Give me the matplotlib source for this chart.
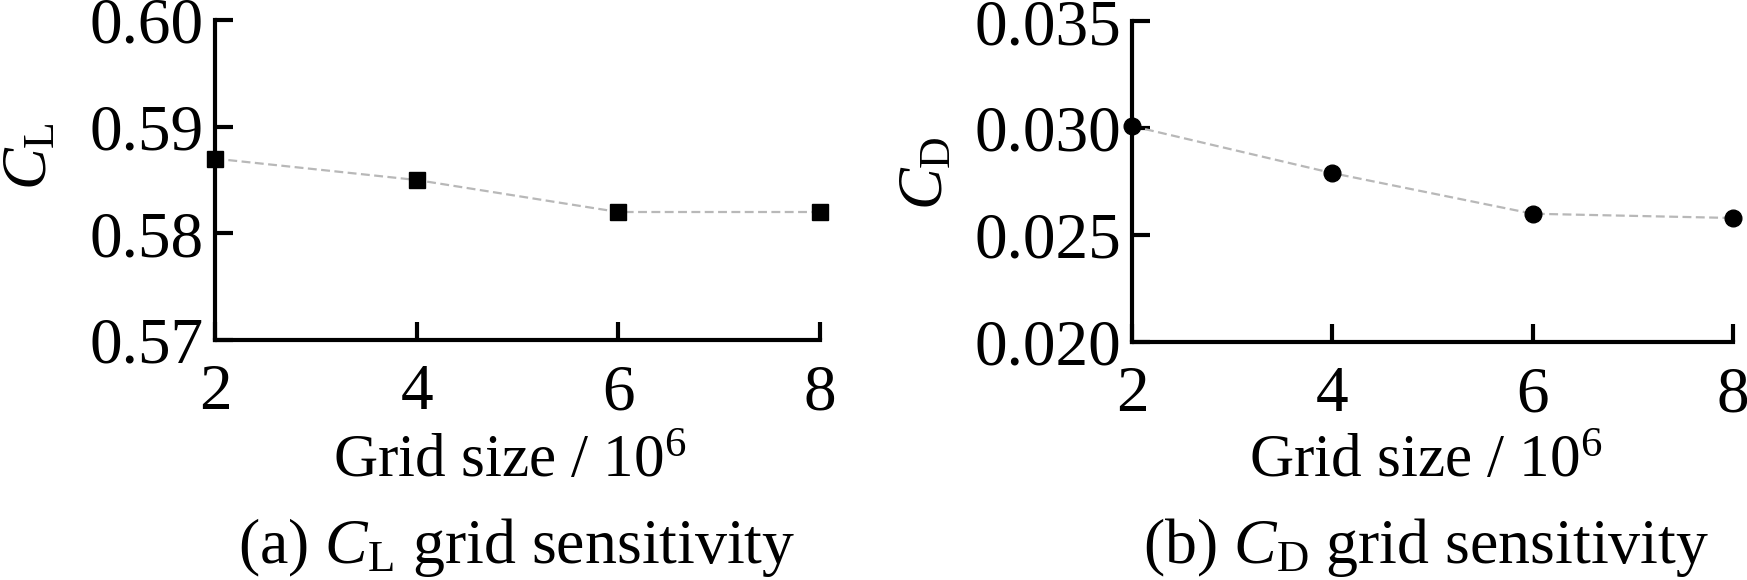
import matplotlib
matplotlib.use('Agg')
import matplotlib.pyplot as plt

plt.rcParams['font.family'] = ['Liberation Serif', 'DejaVu Serif']
plt.rcParams['mathtext.fontset'] = 'custom'
plt.rcParams['mathtext.rm'] = 'Liberation Serif'
plt.rcParams['mathtext.it'] = 'Liberation Serif:italic'

GRID = [2, 4, 6, 8]
CL = [0.587, 0.585, 0.582, 0.582]
CD = [0.0301, 0.0279, 0.0260, 0.0258]
CL_TICKS = [0.57, 0.58, 0.59, 0.60]
CD_TICKS = [0.020, 0.025, 0.030, 0.035]

fig = plt.figure(figsize=(17.47, 5.80), dpi=100)
ax1 = fig.add_axes([0.1231, 0.4138, 0.3463, 0.5517])
ax2 = fig.add_axes([0.648, 0.4103, 0.344, 0.553])

def style(ax, yticks, fmt):
    for s in ['top', 'right']:
        ax.spines[s].set_visible(False)
    for s in ['left', 'bottom']:
        ax.spines[s].set_linewidth(3)
    ax.set_xlim(2, 8)
    ax.set_ylim(yticks[0], yticks[-1])
    ax.set_xticks(GRID)
    ax.set_yticks(yticks)
    ax.set_yticklabels([fmt % v for v in yticks])
    ax.tick_params(direction='in', length=13, width=3, labelsize=47)
    ax.tick_params(axis='x', pad=17)
    ax.tick_params(axis='y', pad=8)

ax1.plot(GRID, CL, color='#b8b8b8', lw=1.6, ls=(0, (4, 2)),
         marker='s', ms=11.5, mfc='black', mec='black', clip_on=False, zorder=3)
ax2.plot(GRID, CD, color='#b8b8b8', lw=1.6, ls=(0, (4, 2)),
         marker='o', ms=12, mfc='black', mec='black', clip_on=False, zorder=3)
style(ax1, CL_TICKS, '%.2f')
style(ax2, CD_TICKS, '%.3f')

fig.text(0.018, 0.731, r'$C_\mathrm{L}$', fontsize=45, rotation=90, ha='center', va='center')
fig.text(0.531, 0.702, r'$C_\mathrm{D}$', fontsize=45, rotation=90, ha='center', va='center')

fig.text(0.292, 0.178, r'Grid size / 10$^6$', fontsize=44, ha='center', va='baseline')
fig.text(0.816, 0.178, r'Grid size / 10$^6$', fontsize=44, ha='center', va='baseline')
fig.text(0.296, 0.029, r'(a) $C_\mathrm{L}$ grid sensitivity', fontsize=46, ha='center', va='baseline')
fig.text(0.816, 0.029, r'(b) $C_\mathrm{D}$ grid sensitivity', fontsize=46, ha='center', va='baseline')

fig.savefig('out.png', dpi=100)
